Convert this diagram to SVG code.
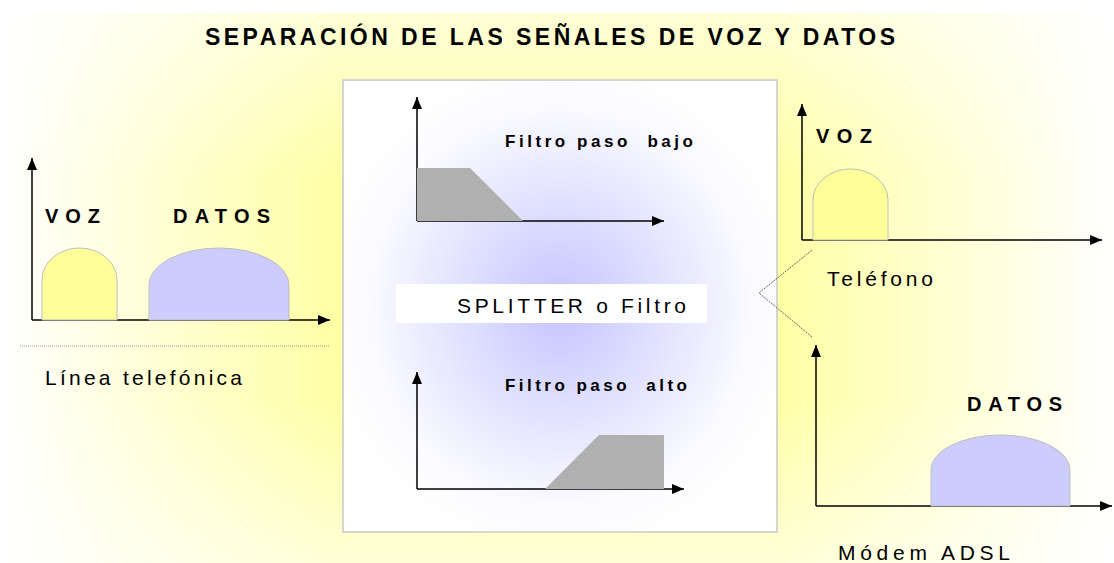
<svg xmlns="http://www.w3.org/2000/svg" width="1114" height="563" viewBox="0 0 1114 563">
<defs>
<linearGradient id="bgH" x1="0" y1="0" x2="1" y2="0">
<stop offset="0" stop-color="#FFFFFF"/>
<stop offset="0.3" stop-color="#FFFFA6"/>
<stop offset="0.7" stop-color="#FFFFA6"/>
<stop offset="1" stop-color="#FFFFFF"/>
</linearGradient>
<linearGradient id="bgV" x1="0" y1="0" x2="0" y2="1">
<stop offset="0" stop-color="#FFFFFF" stop-opacity="0.55"/>
<stop offset="0.3" stop-color="#FFFFFF" stop-opacity="0"/>
<stop offset="0.7" stop-color="#FFFFFF" stop-opacity="0"/>
<stop offset="1" stop-color="#FFFFFF" stop-opacity="0.55"/>
</linearGradient>
<radialGradient id="boxG" cx="0.5" cy="0.5" r="0.55">
<stop offset="0" stop-color="#C4C4FF"/>
<stop offset="0.35" stop-color="#DCDCFF"/>
<stop offset="0.8" stop-color="#FAFAFF"/>
<stop offset="1" stop-color="#FFFFFF"/>
</radialGradient>
<marker id="arr" markerWidth="12" markerHeight="10" refX="12" refY="5" orient="auto" markerUnits="userSpaceOnUse">
<path d="M0,0 L12,5 L0,10 Z" fill="#000"/>
</marker>
<style>
.axis{stroke:#000;stroke-width:1.5;fill:none;marker-end:url(#arr)}
.voz{fill:#FFFF99;stroke:#BDBDBD;stroke-width:1}
.datos{fill:#CCCCFF;stroke:#BDBDBD;stroke-width:1}
.filt{fill:#B0B0B0}
.lbl{font-family:"Liberation Sans",Arial,sans-serif;font-weight:bold;font-size:20px;fill:#000}
.sm{font-family:"Liberation Sans",Arial,sans-serif;font-weight:bold;font-size:17px;fill:#000}
.cap{font-family:"Liberation Sans",Arial,sans-serif;font-size:21px;fill:#000}
.title{font-family:"Liberation Sans",Arial,sans-serif;font-weight:bold;font-size:23px;fill:#000}
</style>
</defs>
<rect x="0" y="0" width="1114" height="563" fill="#FFFFFF"/>
<rect x="0" y="13" width="1114" height="550" fill="url(#bgH)"/>
<rect x="0" y="13" width="1114" height="550" fill="url(#bgV)"/>

<g id="title">
<text class="title" x="205" y="45" textLength="690" lengthAdjust="spacing">SEPARACIÓN DE LAS SEÑALES DE VOZ Y DATOS</text>
</g>

<g id="linea">
<line class="axis" x1="32" y1="320" x2="32" y2="158"/>
<line class="axis" x1="32" y1="320" x2="330" y2="320"/>
<path class="voz" d="M42,320 V280 A37.5,32 0 0 1 117,280 V320 Z"/>
<path class="datos" d="M149,320 V285 A70,37 0 0 1 289,285 V320 Z"/>
<text class="lbl" x="45" y="223" textLength="55" lengthAdjust="spacing">VOZ</text>
<text class="lbl" x="173" y="223" textLength="97" lengthAdjust="spacing">DATOS</text>
<line x1="20" y1="346" x2="330" y2="346" stroke="#9A9A9A" stroke-width="1" stroke-dasharray="1,1"/>
<text class="cap" x="45" y="385" textLength="197" lengthAdjust="spacing">Línea telefónica</text>
</g>

<g id="splitter">
<rect x="343" y="80" width="434" height="452" fill="url(#boxG)" stroke="#C8C8C8" stroke-width="1.5"/>
<rect x="396" y="284" width="311" height="39" fill="#FFFFFF"/>
<text class="cap" x="457" y="313" font-size="22" textLength="229" lengthAdjust="spacing">SPLITTER o Filtro</text>
</g>

<g id="paso-bajo">
<line class="axis" x1="417" y1="221" x2="417" y2="97"/>
<line class="axis" x1="417" y1="221" x2="664" y2="221"/>
<polygon class="filt" points="417,168 470,168 523,221 417,221"/>
<text class="sm" x="505" y="147" textLength="188" lengthAdjust="spacing" xml:space="preserve">Filtro paso  bajo</text>
</g>

<g id="paso-alto">
<line class="axis" x1="417" y1="489" x2="417" y2="372"/>
<line class="axis" x1="417" y1="489" x2="684" y2="489"/>
<polygon class="filt" points="545,489 599,435 664,435 664,489"/>
<text class="sm" x="505" y="391" textLength="182" lengthAdjust="spacing" xml:space="preserve">Filtro paso  alto</text>
</g>

<g id="telefono">
<line class="axis" x1="802" y1="240" x2="802" y2="104"/>
<line class="axis" x1="802" y1="240" x2="1102" y2="240"/>
<path class="voz" d="M813,240 V200 A37.5,31 0 0 1 888,200 V240 Z"/>
<text class="lbl" x="816" y="143" textLength="56" lengthAdjust="spacing">VOZ</text>
<text class="cap" x="827" y="286" textLength="106" lengthAdjust="spacing">Teléfono</text>
</g>

<g id="modem">
<line class="axis" x1="816" y1="506" x2="816" y2="345"/>
<line class="axis" x1="816" y1="506" x2="1112" y2="506"/>
<path class="datos" d="M931,506 V470 A69.5,35 0 0 1 1070,470 V506 Z"/>
<text class="lbl" x="967" y="411" textLength="95" lengthAdjust="spacing">DATOS</text>
<text class="cap" x="838" y="560" textLength="172" lengthAdjust="spacing">Módem ADSL</text>
</g>

<g id="connectors">
<polyline points="812,250 759,293 812,337" fill="none" stroke="#555" stroke-width="0.9" stroke-dasharray="2,1"/>
</g>
</svg>
